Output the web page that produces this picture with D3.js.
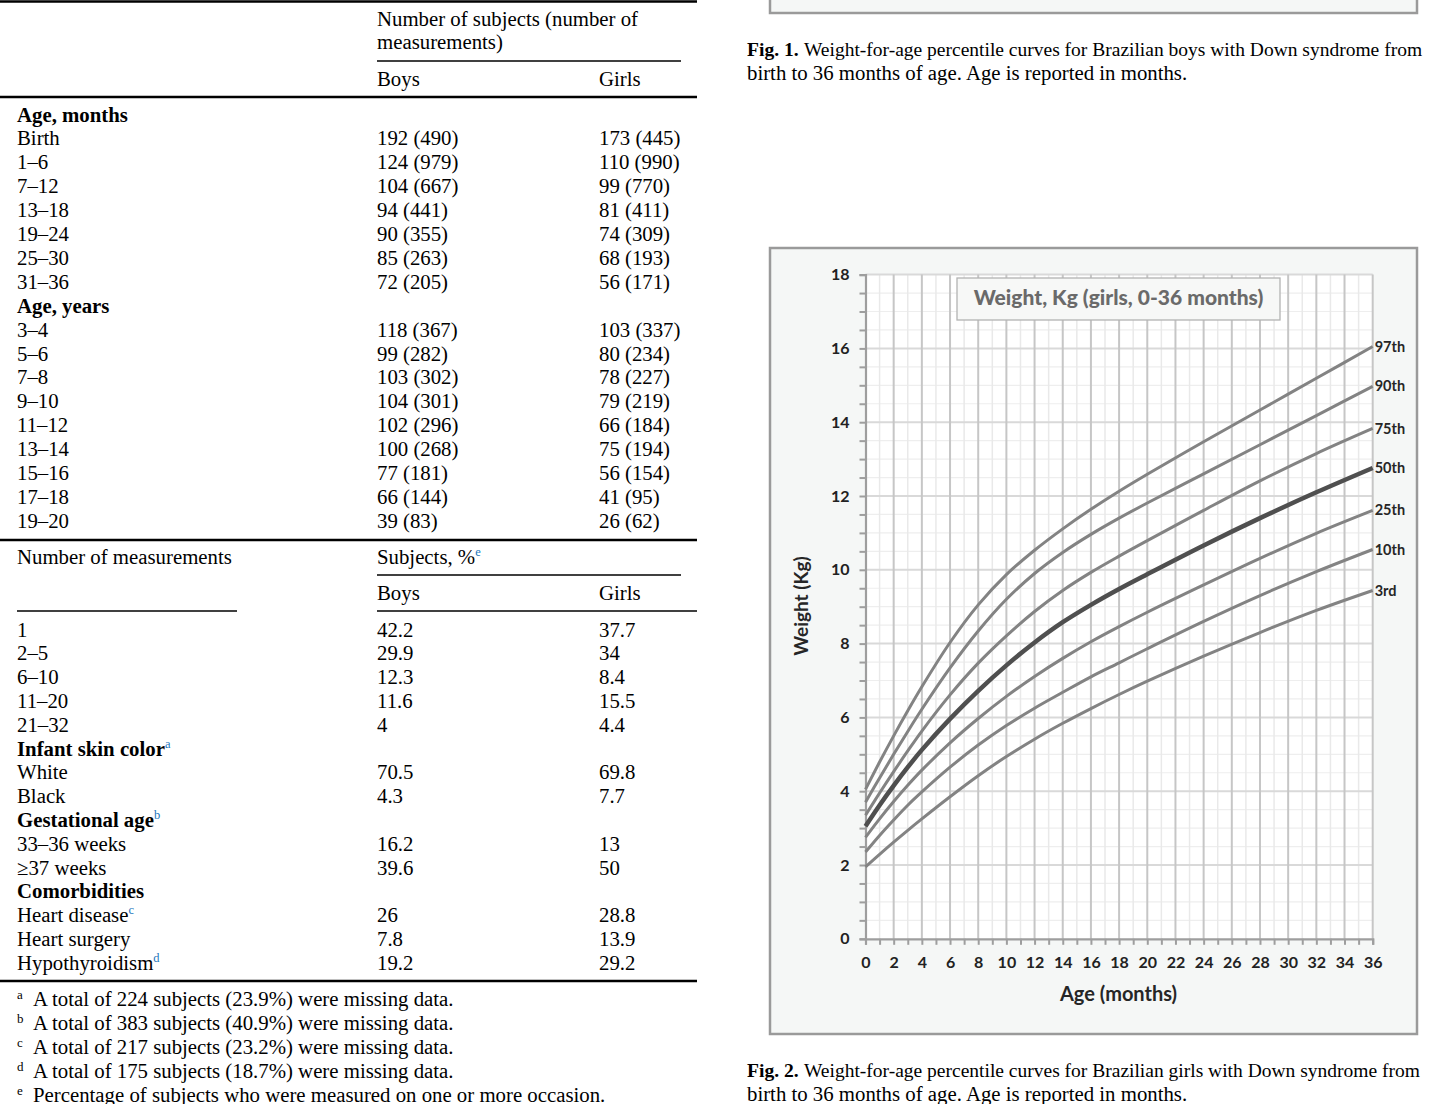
<!DOCTYPE html>
<html>
<head>
<meta charset="utf-8">
<script src="https://cdn.jsdelivr.net/npm/d3@7"></script>
<style>
  body { margin: 0; background: #fff; }
  svg { display: block; }
</style>
</head>
<body>
<svg id="page" width="1430" height="1104"></svg>
<script>
// ---- table data ----
var ageMonths = ["Birth", "1\u20136", "7\u201312", "13\u201318", "19\u201324", "25\u201330", "31\u201336"];
var ageMonthsBoys = ["192 (490)", "124 (979)", "104 (667)", "94 (441)", "90 (355)", "85 (263)", "72 (205)"];
var ageMonthsGirls = ["173 (445)", "110 (990)", "99 (770)", "81 (411)", "74 (309)", "68 (193)", "56 (171)"];

var ageYears = ["3\u20134", "5\u20136", "7\u20138", "9\u201310", "11\u201312", "13\u201314", "15\u201316", "17\u201318", "19\u201320"];
var ageYearsBoys = ["118 (367)", "99 (282)", "103 (302)", "104 (301)", "102 (296)", "100 (268)", "77 (181)", "66 (144)", "39 (83)"];
var ageYearsGirls = ["103 (337)", "80 (234)", "78 (227)", "79 (219)", "66 (184)", "75 (194)", "56 (154)", "41 (95)", "26 (62)"];

var measCounts = ["1", "2\u20135", "6\u201310", "11\u201320", "21\u201332"];
var measBoys = ["42.2", "29.9", "12.3", "11.6", "4"];
var measGirls = ["37.7", "34", "8.4", "15.5", "4.4"];

var skinRows = ["White", "Black"];
var skinBoys = ["70.5", "4.3"];
var skinGirls = ["69.8", "7.7"];

var gestRows = ["33\u201336 weeks", "\u226537 weeks"];
var gestBoys = ["16.2", "39.6"];
var gestGirls = ["13", "50"];

var comorbRows = ["Heart disease", "Heart surgery", "Hypothyroidism"];
var comorbSup = ["c", "", "d"];
var comorbBoys = ["26", "7.8", "19.2"];
var comorbGirls = ["28.8", "13.9", "29.2"];

var footLetters = ["a", "b", "c", "d", "e"];
var footTexts = [
  "A total of 224 subjects (23.9%) were missing data.",
  "A total of 383 subjects (40.9%) were missing data.",
  "A total of 217 subjects (23.2%) were missing data.",
  "A total of 175 subjects (18.7%) were missing data.",
  "Percentage of subjects who were measured on one or more occasion."
];

// ---- chart data (girls weight-for-age, kg) ----
var months = [0, 1, 2, 3, 4, 6, 8, 10, 12, 14, 16, 18, 20, 24, 28, 32, 36];
var p97 = [4.05, 4.79, 5.5, 6.18, 6.83, 8.03, 9.05, 9.87, 10.53, 11.11, 11.64, 12.13, 12.59, 13.47, 14.33, 15.19, 16.05];
var p90 = [3.7, 4.36, 5.0, 5.62, 6.22, 7.34, 8.34, 9.2, 9.9, 10.47, 10.96, 11.4, 11.81, 12.6, 13.39, 14.18, 14.97];
var p75 = [3.35, 3.95, 4.53, 5.09, 5.63, 6.61, 7.47, 8.21, 8.87, 9.44, 9.93, 10.37, 10.79, 11.61, 12.41, 13.15, 13.83];
var p50 = [3.05, 3.62, 4.15, 4.65, 5.12, 5.96, 6.72, 7.41, 8.03, 8.58, 9.05, 9.48, 9.88, 10.66, 11.4, 12.1, 12.76];
var p25 = [2.75, 3.25, 3.72, 4.16, 4.57, 5.31, 5.97, 6.57, 7.11, 7.6, 8.05, 8.46, 8.85, 9.59, 10.31, 10.99, 11.61];
var p10 = [2.35, 2.8, 3.22, 3.62, 3.98, 4.65, 5.25, 5.78, 6.25, 6.68, 7.1, 7.48, 7.86, 8.6, 9.3, 9.95, 10.55];
var p3 = [1.95, 2.29, 2.62, 2.94, 3.25, 3.85, 4.42, 4.94, 5.41, 5.84, 6.24, 6.62, 6.98, 7.66, 8.3, 8.9, 9.44];
var pctLabels = ["97th", "90th", "75th", "50th", "25th", "10th", "3rd"];
var pctSeries = [p97, p90, p75, p50, p25, p10, p3];

var svg = d3.select("#page");
var serif = "'Liberation Serif', 'Times New Roman', serif";
var sans = "Lato, 'Open Sans', sans-serif";
var fs = 20.8;

// ================= TABLE =================
var tbl = svg.append("g");
var colL = 17, colB = 377, colG = 599;

function rule(x1, x2, y, w) {
  tbl.append("line").attr("x1", x1).attr("x2", x2).attr("y1", y).attr("y2", y)
    .attr("stroke", "#000").attr("stroke-width", w);
}
function txt(x, yc, s, bold) {
  return tbl.append("text").attr("x", x).attr("y", yc + 6.5)
    .style("font-family", serif).style("font-size", fs + "px")
    .style("font-weight", bold ? "bold" : "normal").text(s);
}
function sup(t, s) {
  t.append("tspan").attr("dy", -8).style("font-size", "12.5px")
    .style("font-weight", "normal").style("fill", "#1a75bc").text(s);
}
function row(yc, a, b, c) {
  txt(colL, yc, a);
  txt(colB, yc, b);
  txt(colG, yc, c);
}

rule(0, 697, 1.5, 2.5);
txt(colB, 19, "Number of subjects (number of");
txt(colB, 42, "measurements)");
rule(377, 681, 61, 1.6);
txt(colB, 79, "Boys");
txt(colG, 79, "Girls");
rule(0, 697, 97, 2.5);

var yy = 115;
txt(colL, yy, "Age, months", true);
ageMonths.forEach(function(d, i){
  yy += 23.9;
  row(yy, d, ageMonthsBoys[i], ageMonthsGirls[i]);
});
yy += 23.9;
txt(colL, yy, "Age, years", true);
ageYears.forEach(function(d, i){
  yy += 23.9;
  row(yy, d, ageYearsBoys[i], ageYearsGirls[i]);
});

rule(0, 697, 540, 2.5);
txt(colL, 557, "Number of measurements");
sup(txt(colB, 557, "Subjects, %"), "e");
rule(377, 681, 575, 1.6);
txt(colB, 593, "Boys");
txt(colG, 593, "Girls");
rule(17, 237, 611, 1.6);
rule(377, 697, 611, 1.6);

yy = 630;
measCounts.forEach(function(d, i){
  row(yy, d, measBoys[i], measGirls[i]);
  yy += 23.8;
});
sup(txt(colL, yy, "Infant skin color", true), "a");
skinRows.forEach(function(d, i){
  yy += 23.8;
  row(yy, d, skinBoys[i], skinGirls[i]);
});
yy += 23.8;
sup(txt(colL, yy, "Gestational age", true), "b");
gestRows.forEach(function(d, i){
  yy += 23.8;
  row(yy, d, gestBoys[i], gestGirls[i]);
});
yy += 23.8;
txt(colL, yy, "Comorbidities", true);
comorbRows.forEach(function(d, i){
  yy += 23.8;
  var t = txt(colL, yy, d);
  if (comorbSup[i]) sup(t, comorbSup[i]);
  txt(colB, yy, comorbBoys[i]);
  txt(colG, yy, comorbGirls[i]);
});
rule(0, 697, 981, 2.5);

footTexts.forEach(function(d, i){
  var yc = 999 + i * 24;
  tbl.append("text").attr("x", colL).attr("y", yc)
    .style("font-family", serif).style("font-size", "13px").text(footLetters[i]);
  txt(33, yc, d);
});

// ================= CAPTIONS =================
function caption(y1, fig, line1, line2) {
  svg.append("text").attr("x", 747).attr("y", y1)
    .style("font-family", serif).style("font-size", "19.6px").style("font-weight", "bold").text(fig);
  svg.append("text").attr("x", 804).attr("y", y1)
    .style("font-family", serif).style("font-size", "19.5px").text(line1);
  svg.append("text").attr("x", 747).attr("y", y1 + 23.5)
    .style("font-family", serif).style("font-size", fs + "px").text(line2);
}
caption(56, "Fig. 1.", "Weight-for-age percentile curves for Brazilian boys with Down syndrome from",
  "birth to 36 months of age. Age is reported in months.");
caption(1077, "Fig. 2.", "Weight-for-age percentile curves for Brazilian girls with Down syndrome from",
  "birth to 36 months of age. Age is reported in months.");

// bottom of Fig. 1 frame
svg.append("rect").attr("x", 770).attr("y", -10).attr("width", 647).attr("height", 23)
  .attr("fill", "#f5f7f6").attr("stroke", "#9a9a9a").attr("stroke-width", 2.5);

// ================= CHART (Fig. 2) =================
svg.append("rect").attr("x", 770).attr("y", 248).attr("width", 647).attr("height", 786)
  .attr("fill", "#f5f7f6").attr("stroke", "#9a9a9a").attr("stroke-width", 2.5);

var x = d3.scaleLinear().domain([0, 36]).range([865.5, 1372.7]);
var y = d3.scaleLinear().domain([0, 18]).range([938.8, 274.6]);

var chart = svg.append("g");
chart.append("rect").attr("x", x(0)).attr("y", y(18))
  .attr("width", x(36) - x(0)).attr("height", y(0) - y(18)).attr("fill", "#fff");

// grid
var hMinor = d3.range(0, 18.01, 0.5).filter(function(v){ return v % 2 !== 0; });
var hMajor = d3.range(2, 18.01, 2);
var vMinor = d3.range(1, 36, 2);
var vMajor = d3.range(2, 36.01, 2);

chart.selectAll(".hmin").data(hMinor).enter().append("line")
  .attr("x1", x(0)).attr("x2", x(36)).attr("y1", function(d){ return y(d); }).attr("y2", function(d){ return y(d); })
  .attr("stroke", "#eeeeee").attr("stroke-width", 1.2);
chart.selectAll(".vmin").data(vMinor).enter().append("line")
  .attr("x1", function(d){ return x(d); }).attr("x2", function(d){ return x(d); }).attr("y1", y(0)).attr("y2", y(18))
  .attr("stroke", "#e9e9e9").attr("stroke-width", 1.5);
chart.selectAll(".hmaj").data(hMajor).enter().append("line")
  .attr("x1", x(0)).attr("x2", x(36)).attr("y1", function(d){ return y(d); }).attr("y2", function(d){ return y(d); })
  .attr("stroke", "#d9d9d9").attr("stroke-width", 2);
chart.selectAll(".vmaj").data(vMajor).enter().append("line")
  .attr("x1", function(d){ return x(d); }).attr("x2", function(d){ return x(d); }).attr("y1", y(0)).attr("y2", y(18))
  .attr("stroke", "#c6c6c6").attr("stroke-width", 2);

// axes
var yAxis = d3.axisLeft(y).tickValues(d3.range(0, 18.01, 0.5)).tickSize(6).tickPadding(10)
  .tickFormat(function(d){ return d % 2 === 0 ? d : ""; });
var xAxis = d3.axisBottom(x).tickValues(d3.range(0, 36.01, 1)).tickSize(6).tickPadding(12)
  .tickFormat(function(d){ return d % 2 === 0 ? d : ""; });

var gy = chart.append("g").attr("transform", "translate(" + x(0) + ",0)").call(yAxis);
var gx = chart.append("g").attr("transform", "translate(0," + y(0) + ")").call(xAxis);
[gx, gy].forEach(function(g){
  g.select(".domain").attr("stroke", "#9e9e9e").attr("stroke-width", 2.2);
  g.selectAll(".tick line").attr("stroke", "#9e9e9e").attr("stroke-width", 2);
  g.selectAll(".tick text").style("font-family", sans).style("font-size", "16px")
    .style("font-weight", "bold").attr("fill", "#222");
});

// curves
var line = d3.line()
  .x(function(d){ return x(d[0]); })
  .y(function(d){ return y(d[1]); })
  .curve(d3.curveCatmullRom.alpha(0.5));

pctSeries.forEach(function(s, i){
  var pts = months.map(function(m, j){ return [m, s[j]]; });
  var is50 = pctLabels[i] === "50th";
  chart.append("path").datum(pts).attr("d", line)
    .attr("fill", "none")
    .attr("stroke", is50 ? "#4f4f4f" : "#838383")
    .attr("stroke-width", is50 ? 4.5 : 3);
  chart.append("text").attr("x", x(36) + 2).attr("y", y(s[s.length - 1])).attr("dy", "0.35em")
    .style("font-family", sans).style("font-size", "14.5px").style("font-weight", "bold")
    .attr("fill", "#262626").text(pctLabels[i]);
});

// title box
chart.append("rect").attr("x", 957).attr("y", 278).attr("width", 323).attr("height", 42)
  .attr("fill", "#f7f8f7").attr("stroke", "#b3b3b3").attr("stroke-width", 1.3);
chart.append("text").attr("x", 1118.5).attr("y", 298).attr("dy", "0.35em").attr("text-anchor", "middle")
  .style("font-family", sans).style("font-size", "21px").style("font-weight", "900")
  .attr("fill", "#6a6a6a").text("Weight, Kg (girls, 0-36 months)");

// axis titles
chart.append("text").attr("x", 1118.5).attr("y", 994).attr("dy", "0.35em").attr("text-anchor", "middle")
  .style("font-family", sans).style("font-size", "20px").style("font-weight", "bold")
  .attr("fill", "#262626").text("Age (months)");
chart.append("text").attr("transform", "translate(801,606) rotate(-90)").attr("dy", "0.35em")
  .attr("text-anchor", "middle")
  .style("font-family", sans).style("font-size", "19px").style("font-weight", "bold")
  .attr("fill", "#262626").text("Weight (Kg)");
</script>
</body>
</html>
